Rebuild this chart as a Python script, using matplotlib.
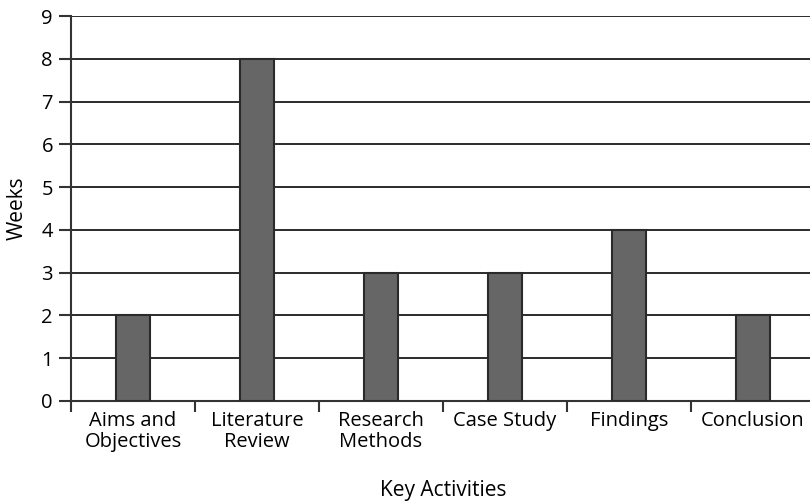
import matplotlib
matplotlib.use("Agg")
import matplotlib.pyplot as plt
import numpy as np

plt.rcParams['font.family'] = ['Open Sans', 'DejaVu Sans']

activities = ["Aims and\nObjectives", "Literature\nReview", "Research\nMethods",
              "Case Study", "Findings", "Conclusion"]
weeks = [2, 8, 3, 3, 4, 2]

fig = plt.figure(figsize=(8.1, 5.01), dpi=100)
ax = fig.add_axes([71/810, 100/501, 744/810, 385/501])

x = np.arange(len(activities))
ax.set_axisbelow(True)
ax.yaxis.grid(True, color='#1a1a1a', linewidth=1.3)
ax.bar(x, weeks, width=0.27, color='#666666', edgecolor='#2a2a2a', linewidth=1.5, zorder=3)

ax.set_xlim(-0.5, len(activities) - 0.5)
ax.set_ylim(0, 9)
ax.set_yticks(range(10))

# labels in the middle, ticks on the category boundaries
ax.set_xticks(x)
ax.set_xticklabels(activities, fontsize=14.5, linespacing=1.1)
ax.tick_params(axis='x', length=0, pad=7)
ax.set_xticks(np.arange(-0.5, len(activities)), minor=True)
ax.tick_params(axis='x', which='minor', length=8, width=1.5, color='#333333')
ax.tick_params(axis='y', length=9, width=1.5, color='#333333', labelsize=14.5, pad=4)

for side in ['top', 'right']:
    ax.spines[side].set_visible(False)
for side in ['left', 'bottom']:
    ax.spines[side].set_linewidth(1.5)
    ax.spines[side].set_color('#333333')

ax.set_ylabel("Weeks", fontsize=15, labelpad=10)
ax.set_xlabel("Key Activities", fontsize=15, labelpad=20)

fig.savefig("out.png", dpi=100)
